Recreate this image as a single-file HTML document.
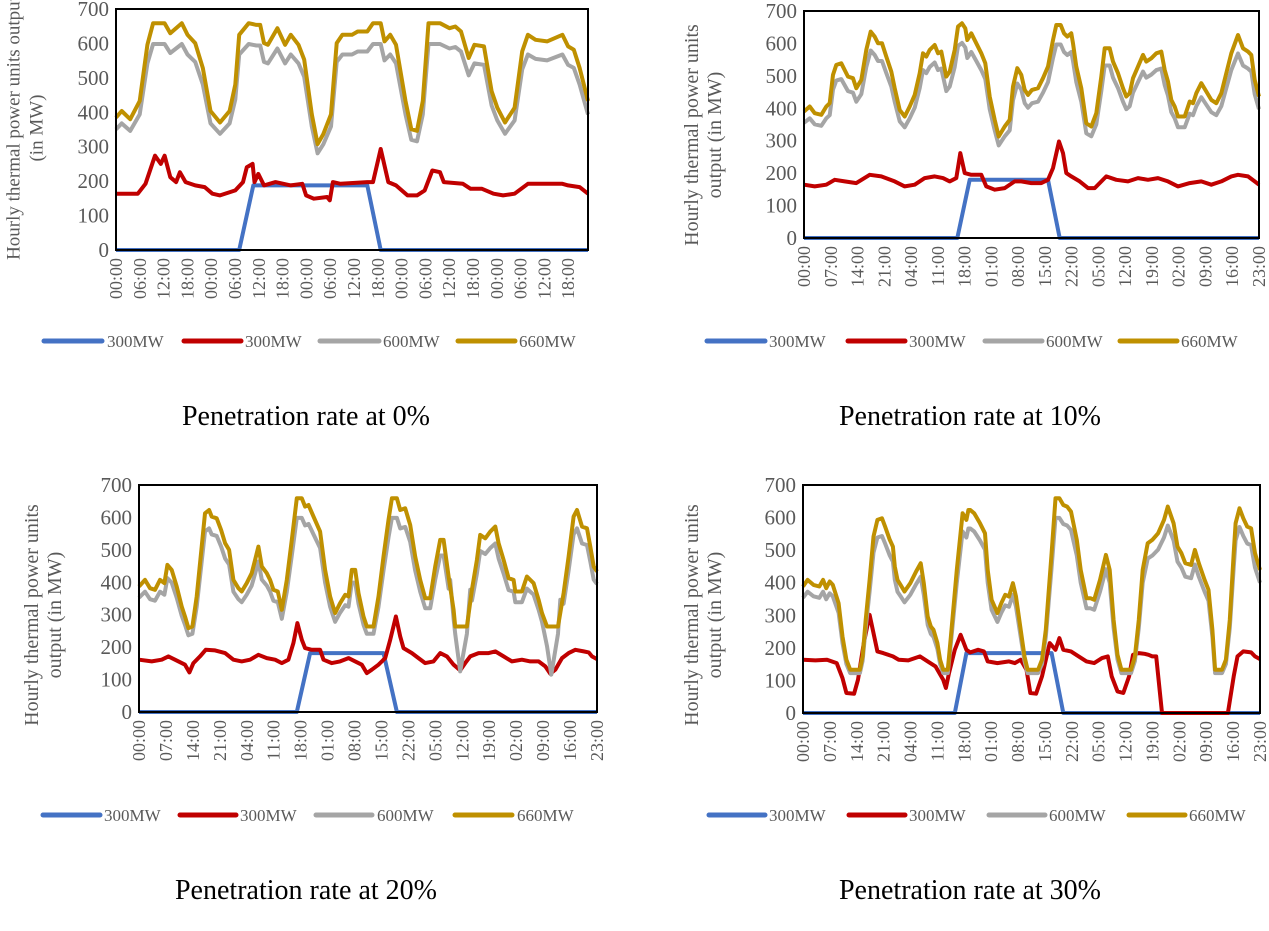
<!DOCTYPE html>
<html><head><meta charset="utf-8">
<style>
html,body{margin:0;padding:0;background:#fff;}
svg{display:block;}
text{font-family:"Liberation Serif",serif;}
</style></head>
<body>
<svg id="s" width="1269" height="931" viewBox="0 0 1269 931" xmlns="http://www.w3.org/2000/svg"></svg>
<script>
const NS="http://www.w3.org/2000/svg";
const S=document.getElementById('s');
function el(t,a,txt){const e=document.createElementNS(NS,t);for(const k in a)e.setAttribute(k,a[k]);if(txt!==undefined)e.textContent=txt;S.appendChild(e);return e;}
const C={blue:"#4472C4",red:"#C00000",gray:"#A5A5A5",gold:"#BF9000"};

const charts=[
{ // 0%
 box:[116,588,9,250], z:[303,1537,22,750],
 labels:["00:00","06:00","12:00","18:00","00:00","06:00","12:00","18:00","00:00","06:00","12:00","18:00","00:00","06:00","12:00","18:00","00:00","06:00","12:00","18:00"], step:6,
 ytitle:["Hourly thermal power units output","(in MW)"], ytx:[14,37], yty:128, ytf:19,
 legY:341, leg:[[44,102,107],[184,241,245],[320,379,383],[458,515,519]],
 cap:["Penetration rate at 0%",306,425],
 gold:[[303,350],[318,330],[340,355],[365,300],[385,130],[400,65],[430,65],[445,95],[475,65],[490,100],[510,125],[530,200],[550,330],[575,365],[600,330],[615,250],[625,100],[650,65],[670,70],[680,70],[690,125],[700,130],[725,80],[745,130],[760,100],[780,130],[795,175],[815,340],[830,430],[845,400],[865,340],[880,125],[895,100],[920,100],[935,90],[960,90],[975,65],[995,65],[1005,120],[1020,100],[1035,130],[1060,300],[1075,385],[1090,390],[1105,300],[1120,65],[1150,65],[1175,80],[1190,75],[1205,90],[1225,170],[1240,130],[1265,135],[1285,270],[1300,320],[1320,365],[1345,320],[1365,150],[1380,100],[1400,115],[1430,120],[1470,100],[1485,135],[1500,145],[1515,200],[1537,300]],
 red:[[303,580],[360,580],[380,550],[405,465],[420,490],[430,465],[445,530],[460,545],[470,515],[485,545],[510,555],[535,560],[555,580],[575,585],[615,570],[635,545],[645,500],[660,490],[665,545],[675,520],[690,555],[720,545],[760,555],[790,550],[800,585],[820,595],[855,590],[862,600],[870,545],[890,550],[960,545],[975,545],[995,445],[1015,545],[1035,555],[1065,585],[1090,585],[1110,570],[1130,510],[1150,515],[1160,545],[1210,550],[1230,565],[1260,565],[1290,580],[1315,585],[1345,580],[1380,550],[1470,550],[1485,555],[1515,560],[1537,580]],
 blue:[[303,750],[625,750],[662,555],[960,555],[995,750],[1537,750]],
 dips:[]
},
{ // 10%
 box:[804,1259,11,238], z:[28,1393,33,715],
 labels:["00:00","07:00","14:00","21:00","04:00","11:00","18:00","01:00","08:00","15:00","22:00","05:00","12:00","19:00","02:00","09:00","16:00","23:00"], step:7,
 ytitle:["Hourly thermal power units","output (in MW)"], ytx:[692,715], yty:135, ytf:20,
 legY:341, leg:[[707,765,769],[848,905,909],[985,1042,1046],[1120,1177,1181]],
 cap:["Penetration rate at 10%",970,425],
 gold:[[28,335],[45,320],[60,340],[80,345],[95,320],[105,310],[115,225],[125,195],[140,190],[160,230],[175,235],[185,265],[200,240],[215,150],[228,95],[240,110],[250,130],[262,130],[275,170],[290,215],[300,265],[315,330],[330,350],[345,320],[360,285],[375,220],[385,160],[395,170],[405,150],[420,135],[430,160],[440,155],[455,230],[465,215],[480,150],[490,80],[502,70],[512,85],[518,120],[530,100],[545,130],[560,160],[572,190],[585,290],[600,360],[612,410],[630,380],[645,360],[655,260],[668,205],[680,225],[690,270],[700,285],[712,270],[730,265],[745,235],[760,200],[775,120],[785,75],[798,75],[808,100],[818,110],[830,100],[835,130],[845,200],[860,265],[875,370],[890,380],[905,340],[920,230],[930,145],[945,145],[955,185],[970,220],[985,265],[995,290],[1005,280],[1015,235],[1030,200],[1045,165],[1055,185],[1070,175],[1085,160],[1100,155],[1110,210],[1120,245],[1130,300],[1140,320],[1150,350],[1170,350],[1185,305],[1195,310],[1205,280],[1220,250],[1235,275],[1250,300],[1265,310],[1280,280],[1295,220],[1310,160],[1330,105],[1345,145],[1360,155],[1370,165],[1380,240],[1393,290]],
 red:[[28,555],[60,560],[95,555],[120,540],[150,545],[185,550],[225,525],[260,530],[300,545],[330,560],[360,555],[390,535],[420,530],[445,535],[465,545],[485,535],[497,460],[510,520],[530,525],[560,525],[575,560],[600,570],[630,565],[660,545],[680,545],[710,550],[740,550],[760,540],[775,505],[793,425],[805,460],[815,520],[830,530],[855,545],[880,565],[900,565],[935,530],[965,540],[1000,545],[1030,535],[1060,540],[1090,535],[1120,545],[1150,560],[1185,550],[1220,545],[1250,555],[1280,545],[1310,530],[1330,525],[1360,530],[1380,545],[1393,555]],
 blue:[[28,715],[488,715],[525,540],[760,540],[795,715],[1393,715]],
 dips:[]
},
{ // 20%
 box:[139,597,485,712], z:[12,1385,15,697],
 labels:["00:00","07:00","14:00","21:00","04:00","11:00","18:00","01:00","08:00","15:00","22:00","05:00","12:00","19:00","02:00","09:00","16:00","23:00"], step:7,
 ytitle:["Hourly thermal power units","output  (in MW)"], ytx:[32,55], yty:615, ytf:20,
 legY:815, leg:[[43,100,104],[180,236,240],[316,372,377],[455,512,517]],
 cap:["Penetration rate at 20%",306,899],
 gold:[[12,320],[30,300],[45,325],[60,330],[75,300],[88,310],[97,255],[110,270],[125,320],[140,380],[150,410],[160,445],[172,440],[185,350],[200,200],[210,100],[222,90],[230,110],[245,115],[258,150],[270,190],[282,210],[295,300],[310,325],[320,335],[335,310],[350,280],[360,240],[370,200],[380,260],[395,280],[405,300],[415,330],[428,335],[440,390],[455,300],[470,180],[485,55],[500,55],[510,80],[520,75],[535,110],[555,155],[570,270],[585,350],[600,400],[615,370],[630,345],[640,350],[650,270],[660,270],[670,340],[685,410],[695,440],[715,440],[730,350],[745,230],[760,120],[770,55],[785,55],[795,90],[810,85],[825,135],[840,230],[855,300],[870,355],[885,355],[900,260],[915,180],[925,180],[940,290],[955,390],[960,440],[995,440],[1010,330],[1025,240],[1035,165],[1050,175],[1065,155],[1080,140],[1090,190],[1105,240],[1120,295],[1135,300],[1140,335],[1160,335],[1175,290],[1195,310],[1210,360],[1220,400],[1235,440],[1268,440],[1285,340],[1300,230],[1315,110],[1325,90],[1340,140],[1355,145],[1365,200],[1375,260],[1385,275]],
 red:[[12,540],[50,545],[80,540],[100,530],[120,540],[150,555],[163,578],[175,550],[195,530],[212,510],[240,512],[270,520],[295,540],[320,545],[345,540],[370,525],[395,535],[420,540],[440,550],[460,540],[475,490],[487,430],[500,480],[510,505],[530,510],[555,510],[565,540],[590,550],[615,545],[640,535],[660,545],[680,555],[695,580],[710,570],[730,555],[750,535],[765,480],[782,410],[795,470],[805,505],[830,520],[850,535],[870,550],[895,545],[915,520],[935,530],[955,555],[975,572],[990,550],[1005,530],[1030,520],[1060,520],[1080,515],[1105,530],[1130,545],[1160,540],[1185,545],[1210,545],[1230,560],[1245,582],[1260,570],[1280,535],[1300,520],[1320,510],[1345,515],[1360,518],[1370,530],[1385,538]],
 blue:[[12,697],[485,697],[525,520],[745,520],[785,697],[1385,697]],
 dips:[[[945,300],[975,575],[1005,330]],[[1220,400],[1248,585],[1275,360]]]
},
{ // 30%
 box:[803,1260,485,713], z:[368,1548,45,730],
 labels:["00:00","07:00","14:00","21:00","04:00","11:00","18:00","01:00","08:00","15:00","22:00","05:00","12:00","19:00","02:00","09:00","16:00","23:00"], step:7,
 ytitle:["Hourly thermal power units","output  (in MW)"], ytx:[692,715], yty:615, ytf:20,
 legY:815, leg:[[709,765,769],[849,905,909],[989,1045,1049],[1129,1185,1189]],
 cap:["Penetration rate at 30%",970,899],
 gold:[[368,350],[380,330],[395,345],[410,350],[420,330],[428,355],[437,335],[445,345],[460,400],[470,500],[480,570],[490,600],[515,600],[522,560],[530,450],[540,330],[550,200],[560,150],[572,145],[580,170],[592,210],[600,230],[605,290],[612,330],[620,345],[630,365],[645,340],[660,305],[672,280],[680,340],[690,440],[698,470],[705,480],[715,520],[722,570],[730,600],[742,600],[750,500],[765,300],[780,130],[790,150],[795,120],[800,120],[810,130],[825,160],[838,190],[845,300],[855,390],[870,430],[880,400],[890,375],[900,380],[910,340],[918,380],[930,480],[940,560],[948,600],[975,600],[985,570],[995,480],[1010,250],[1020,85],[1030,85],[1040,105],[1050,110],[1060,125],[1075,210],[1085,300],[1100,385],[1110,385],[1120,390],[1135,330],[1150,255],[1160,300],[1170,450],[1180,555],[1190,600],[1215,600],[1225,560],[1235,450],[1245,300],[1258,220],[1270,210],[1285,190],[1300,150],[1310,110],[1325,160],[1335,230],[1345,250],[1355,280],[1370,285],[1380,240],[1390,280],[1405,330],[1415,360],[1425,480],[1432,600],[1450,600],[1460,570],[1470,450],[1480,250],[1485,160],[1495,115],[1505,145],[1515,170],[1525,175],[1535,250],[1548,300]],
 red:[[368,570],[400,572],[430,570],[455,580],[470,625],[480,670],[500,672],[510,630],[525,520],[540,435],[550,490],[560,545],[575,550],[600,560],[615,570],[640,572],[670,560],[690,575],[710,590],[730,630],[737,655],[745,610],[760,540],[775,495],[790,540],[800,548],[820,540],[835,545],[845,575],[870,580],[900,575],[915,580],[930,570],[945,600],[955,670],[970,672],[985,620],[1005,520],[1020,540],[1030,505],[1040,540],[1060,545],[1080,560],[1100,575],[1120,580],[1140,565],[1155,560],[1165,620],[1180,665],[1195,670],[1210,620],[1220,555],[1235,550],[1250,552],[1260,555],[1270,560],[1280,560],[1295,730],[1465,730],[1480,620],[1490,560],[1505,545],[1525,548],[1535,560],[1548,568]],
 blue:[[368,730],[760,730],[790,550],[1010,550],[1040,730],[1548,730]],
 dips:[]
}];

function interp(pts,x){
  for(let i=0;i<pts.length-1;i++){const a=pts[i],b=pts[i+1];if(x>=a[0]&&x<=b[0]){const t=b[0]==a[0]?0:(x-a[0])/(b[0]-a[0]);return a[1]+t*(b[1]-a[1]);}}
  return null;
}

for(const c of charts){
  const [L,R,T,B]=c.box,[zl,zr,zt,zb]=c.z;
  const X=x=>L+(x-zl)/(zr-zl)*(R-L);
  const Yz=y=>T+(y-zt)/(zb-zt)*(B-T);
  const Yv=v=>B-v/700*(B-T);
  for(let v=0;v<=700;v+=100) el('text',{x:L-7,y:Yv(v)+7,'text-anchor':'end','font-size':21,fill:'#595959'},String(v));
  el('line',{x1:L,y1:B,x2:R,y2:B,stroke:'#D9D9D9','stroke-width':2});
  const n=119, pxh=(R-L)/n;
  c.labels.forEach((s,i)=>{const x=L+i*c.step*pxh+6;const y=B+8;
    el('text',{x:x,y:y,'text-anchor':'end','font-size':18,fill:'#595959',transform:`rotate(-90 ${x} ${y})`},s);});
  c.ytitle.forEach((s,i)=>{const x=c.ytx[i],y=c.yty;
    el('text',{x:x,y:y,'text-anchor':'middle','dominant-baseline':'central','font-size':c.ytf,fill:'#595959',transform:`rotate(-90 ${x} ${y})`},s);});
  const toPts=arr=>arr.map(p=>X(p[0]).toFixed(1)+','+Yz(p[1]).toFixed(1)).join(' ');
  const gray=c.gold.map(p=>{
    const v=(zb-p[1])/(zb-zt)*700; let g=120+(v-130)*0.905; let y=zb-g/700*(zb-zt);
    for(const d of c.dips){const dy=interp(d,p[0]); if(dy!==null) y=Math.max(y,dy);}
    return [p[0],y];});
  let g2=gray.slice();
  for(const d of c.dips){for(const q of d){ if(!g2.some(p=>p[0]===q[0])){g2.push([q[0],q[1]]);} }}
  g2.sort((a,b)=>a[0]-b[0]);
  g2=g2.map(p=>{let y=p[1];for(const d of c.dips){const dy=interp(d,p[0]);if(dy!==null&&Math.abs(d[1][0]-p[0])<1)y=d[1][1];}return [p[0],y];});
  el('polyline',{points:toPts(c.blue),fill:'none',stroke:C.blue,'stroke-width':4,'stroke-linejoin':'round'});
  el('polyline',{points:toPts(c.red),fill:'none',stroke:C.red,'stroke-width':4,'stroke-linejoin':'round'});
  el('polyline',{points:toPts(g2),fill:'none',stroke:C.gray,'stroke-width':4,'stroke-linejoin':'round'});
  el('polyline',{points:toPts(c.gold),fill:'none',stroke:C.gold,'stroke-width':4,'stroke-linejoin':'round'});
  el('rect',{x:L,y:T,width:R-L,height:B-T,fill:'none',stroke:'#000','stroke-width':2});
  const cols=[C.blue,C.red,C.gray,C.gold],names=["300MW","300MW","600MW","660MW"];
  c.leg.forEach((l,i)=>{
    el('line',{x1:l[0],y1:c.legY,x2:l[1],y2:c.legY,stroke:cols[i],'stroke-width':5,'stroke-linecap':'round'});
    el('text',{x:l[2],y:c.legY+6,'font-size':17,fill:'#595959'},names[i]);
  });
  el('text',{x:c.cap[1],y:c.cap[2],'text-anchor':'middle','font-size':28,fill:'#000'},c.cap[0]);
}
</script>
</body></html>
